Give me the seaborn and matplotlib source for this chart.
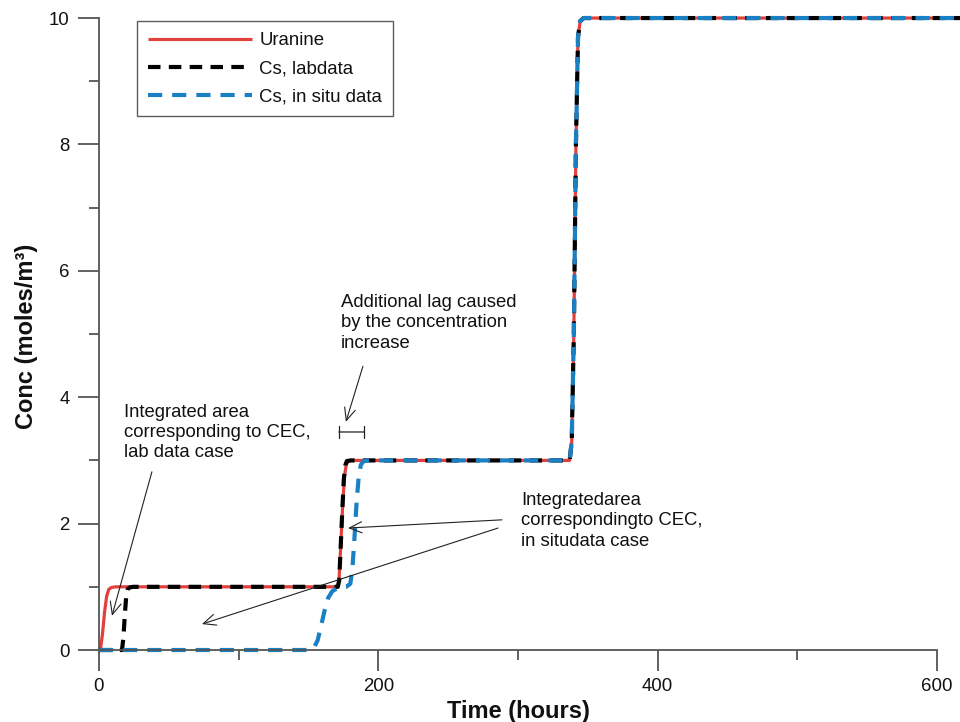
import matplotlib
matplotlib.use("Agg")
import matplotlib.pyplot as plt
from matplotlib.ticker import MultipleLocator
import seaborn as sns
import pandas as pd

# Breakthrough curves (time in hours, concentration in moles/m3)
uranine_t = [0, 1.0, 2.5, 4.0, 5.5, 7.0, 9.0, 12.0, 170.5, 171.8, 173.0, 174.5,
             175.8, 177.0, 178.5, 181.0, 337.0, 338.5, 340.0, 341.5, 343.0,
             344.5, 347.0, 616.5]
uranine_c = [0, 0, 0.25, 0.6, 0.85, 0.96, 0.99, 1.0, 1.0, 1.08, 1.6, 2.3,
             2.75, 2.93, 2.99, 3.0, 3.0, 3.3, 5.0, 8.0, 9.7,
             9.95, 10.0, 10.0]

cs_lab_t = [0, 16.5, 17.5, 18.5, 19.5, 20.5, 22.0, 24.5, 171.0, 172.0, 173.0,
            174.2, 175.3, 176.3, 177.5, 180.0, 337.0, 338.5, 340.0, 341.5,
            343.0, 344.5, 347.0, 616.5]
cs_lab_c = [0, 0, 0.2, 0.55, 0.85, 0.96, 0.99, 1.0, 1.0, 1.1, 1.6,
            2.2, 2.7, 2.92, 2.99, 3.0, 3.0, 3.3, 5.0, 8.0,
            9.7, 9.95, 10.0, 10.0]

cs_insitu_t = [0, 151.0, 154.0, 156.5, 159.0, 161.5, 164.0, 167.0, 170.0,
               173.0, 177.0, 180.0, 181.5, 183.0, 184.5, 186.0, 187.5, 189.5,
               192.0, 337.0, 338.5, 340.0, 341.5, 343.0, 344.5, 347.0, 616.5]
cs_insitu_c = [0, 0, 0.04, 0.15, 0.38, 0.62, 0.82, 0.93, 0.97,
               0.99, 1.0, 1.05, 1.3, 1.8, 2.35, 2.75, 2.93, 2.99,
               3.0, 3.0, 3.3, 5.0, 8.0, 9.7, 9.95, 10.0, 10.0]

series_names = ["Uranine", "Cs, labdata", "Cs, in situ data"]
series_colors = ["#e2403d", "#000000", "#1a80c4"]

x_ticks = [0, 200, 400, 600]
y_ticks = [0, 2, 4, 6, 8, 10]

sns.set_theme(style="ticks")
plt.rcParams["font.family"] = ["Liberation Sans", "DejaVu Sans"]

fig = plt.figure(figsize=(9.6, 7.22), dpi=100)
ax = fig.add_axes([0.1031, 0.0997, 0.8969, 0.8753])

frames = [
    pd.DataFrame({"t": uranine_t, "c": uranine_c}),
    pd.DataFrame({"t": cs_lab_t, "c": cs_lab_c}),
    pd.DataFrame({"t": cs_insitu_t, "c": cs_insitu_c}),
]
widths = [2.3, 3.0, 3.0]
dash_styles = [None, (3.0, 2.0), (3.4, 2.4)]

handles = []
for df, name, col, lw, ds in zip(frames, series_names, series_colors, widths, dash_styles):
    n_before = len(ax.lines)
    sns.lineplot(data=df, x="t", y="c", ax=ax, color=col, lw=lw, sort=False,
                 estimator=None, label=name, legend=False)
    line = ax.lines[n_before]
    line.set_clip_on(False)
    line.set_solid_capstyle("butt")
    if ds is not None:
        line.set_dashes(ds)
    handles.append(line)

ax.set_xlim(0, 616.5)
ax.set_ylim(0, 10)

for side in ["top", "right"]:
    ax.spines[side].set_visible(False)
ax.spines["bottom"].set_bounds(0, 600)
ax.spines["left"].set_bounds(0, 10)
for side in ["bottom", "left"]:
    ax.spines[side].set_color("#555555")
    ax.spines[side].set_linewidth(1.3)

ax.set_xticks(x_ticks)
ax.set_yticks(y_ticks)
ax.xaxis.set_minor_locator(MultipleLocator(100))
ax.yaxis.set_minor_locator(MultipleLocator(1))
ax.tick_params(which="major", length=15, width=1.3, color="#555555",
               labelsize=13.4, labelcolor="#111111")
ax.tick_params(axis="x", which="major", pad=5)
ax.tick_params(axis="y", which="major", pad=6)
ax.tick_params(which="minor", length=7.5, width=1.3, color="#555555")

ax.set_xlabel("Time (hours)", fontsize=17, fontweight="bold", color="#111111")
ax.set_ylabel("Conc (moles/m³)", fontsize=17, fontweight="bold", color="#111111")
ax.xaxis.set_label_coords(0.487, -0.079)
ax.yaxis.set_label_coords(-0.071, 0.497)

leg = ax.legend(handles=handles, labels=series_names, loc="upper left",
                bbox_to_anchor=(0.044, 0.995), fontsize=13.4, frameon=True,
                fancybox=False, handlelength=5.6, handletextpad=0.4,
                labelspacing=0.6, borderpad=0.58, borderaxespad=0)
leg.get_frame().set_edgecolor("#333333")
leg.get_frame().set_linewidth(1.0)
for txt in leg.get_texts():
    txt.set_color("#111111")

arrow_kw = dict(arrowstyle="->,head_length=0.45,head_width=0.2", lw=0.8,
                color="#222222", shrinkA=0, shrinkB=0, mutation_scale=20)
text_kw = dict(fontsize=13.3, ha="left", va="top", color="#111111",
               linespacing=1.25)

ax.text(17.9, 3.9, "Integrated area\ncorresponding to CEC,\nlab data case", **text_kw)
ax.annotate("", xy=(9.3, 0.54), xytext=(37.9, 2.82), arrowprops=arrow_kw)

ax.text(173.3, 5.63, "Additional lag caused\nby the concentration\nincrease", **text_kw)
ax.annotate("", xy=(176.8, 3.61), xytext=(189.0, 4.49), arrowprops=arrow_kw)
ax.annotate("", xy=(171.8, 3.45), xytext=(189.7, 3.45),
            arrowprops=dict(arrowstyle="|-|,widthA=0.22,widthB=0.22", lw=0.9,
                            color="#222222", shrinkA=0, shrinkB=0, mutation_scale=20))

ax.text(302.1, 2.5, "Integratedarea\ncorrespondingto CEC,\nin situdata case", **text_kw)
ax.annotate("", xy=(178.3, 1.93), xytext=(288.5, 2.06), arrowprops=arrow_kw)
ax.annotate("", xy=(73.7, 0.41), xytext=(285.7, 1.93), arrowprops=arrow_kw)

fig.savefig("out.png", dpi=100)
